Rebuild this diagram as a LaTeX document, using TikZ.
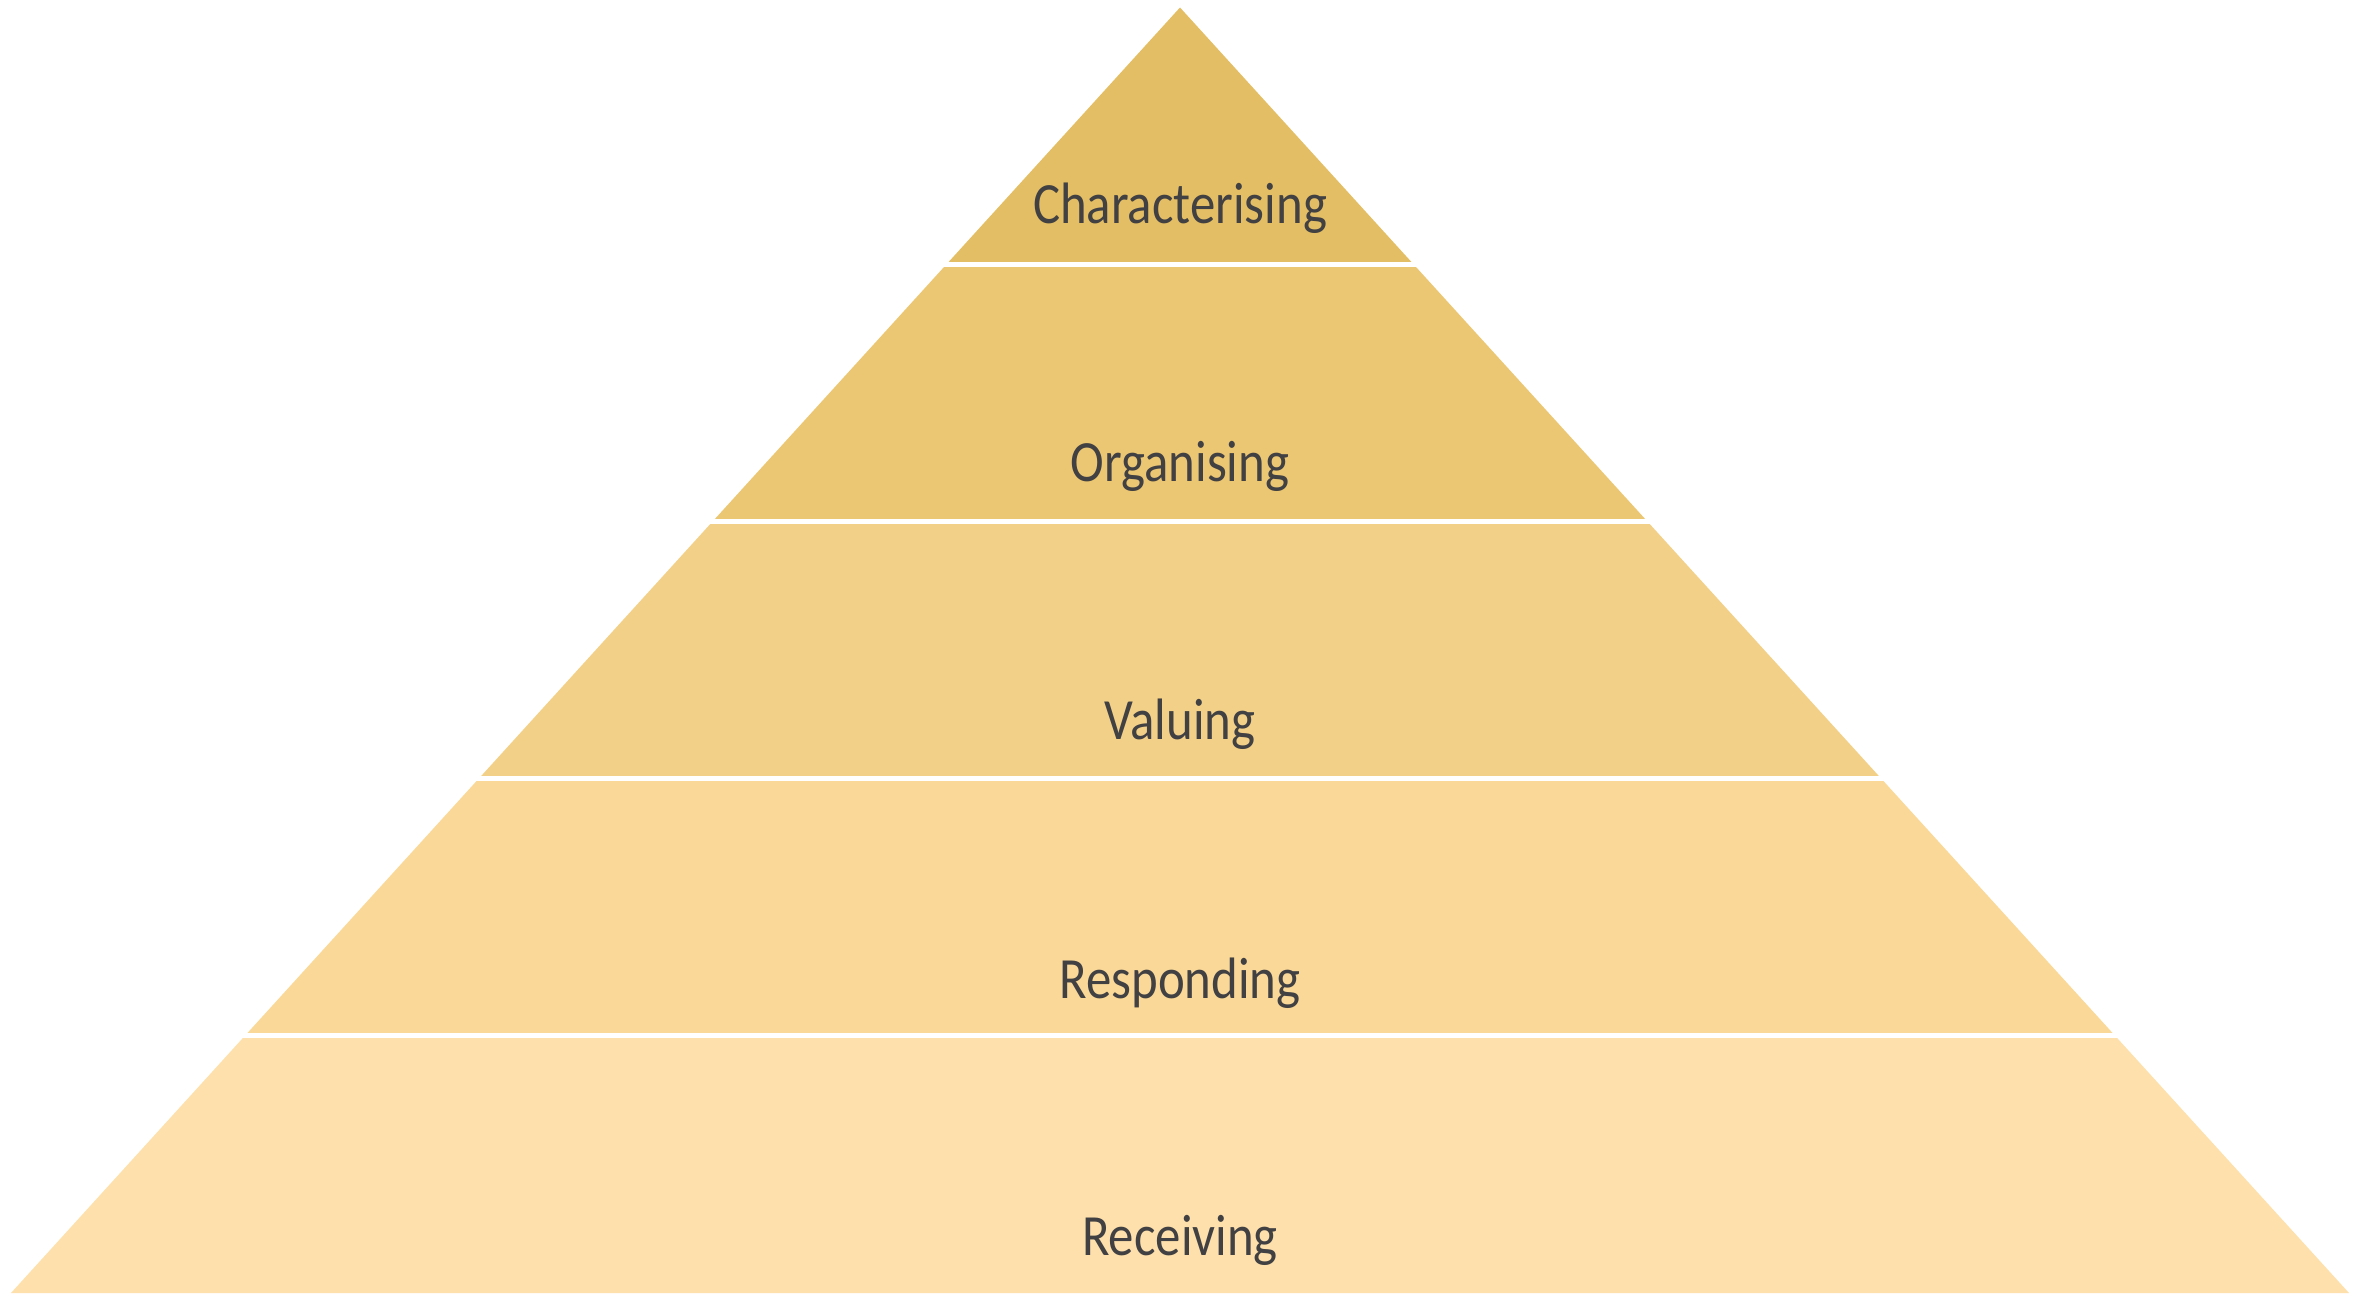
\documentclass[tikz,border=0pt]{standalone}
\usepackage{fontspec}
\setmainfont{Carlito}[FakeStretch=0.87]
\usetikzlibrary{calc}
\definecolor{bandA}{RGB}{228,190,100}
\definecolor{bandB}{RGB}{236,199,115}
\definecolor{bandC}{RGB}{243,208,135}
\definecolor{bandD}{RGB}{249,216,152}
\definecolor{bandE}{RGB}{253,224,171}
\definecolor{txt}{RGB}{65,64,66}
\begin{document}
\begin{tikzpicture}[x=0.5pt,y=-0.5pt,
  lbl/.style={anchor=base,inner sep=0pt,text=txt,font=\fontsize{29.2}{32}\selectfont},
  gap/.style={draw=white,line width=2.5pt}]
\useasboundingbox (0,0) rectangle (2360,1300);
\coordinate (A) at (1180,7.5);
\coordinate (BL) at (11,1293);
\coordinate (BR) at (2349,1293);
\fill[bandA] (A) -- ($(A)!0.2!(BL)$) -- ($(A)!0.2!(BR)$) -- cycle;
\fill[bandB] ($(A)!0.2!(BL)$) -- ($(A)!0.4!(BL)$) -- ($(A)!0.4!(BR)$) -- ($(A)!0.2!(BR)$) -- cycle;
\fill[bandC] ($(A)!0.4!(BL)$) -- ($(A)!0.6!(BL)$) -- ($(A)!0.6!(BR)$) -- ($(A)!0.4!(BR)$) -- cycle;
\fill[bandD] ($(A)!0.6!(BL)$) -- ($(A)!0.8!(BL)$) -- ($(A)!0.8!(BR)$) -- ($(A)!0.6!(BR)$) -- cycle;
\fill[bandE] ($(A)!0.8!(BL)$) -- (BL) -- (BR) -- ($(A)!0.8!(BR)$) -- cycle;
\foreach \t in {0.2,0.4,0.6,0.8}
  \draw[gap] ($(A)!\t!(BL)+(-10,0)$) -- ($(A)!\t!(BR)+(10,0)$);
\node[lbl] (l1) at (1180,224) {Characterising};
\node[lbl] (l2) at (1180,481.5) {Organising};
\node[lbl] (l3) at (1180,739) {Valuing};
\node[lbl] (l4) at (1180,998) {Responding};
\node[lbl] (l5) at (1180,1255) {Receiving};
\end{tikzpicture}
\end{document}
